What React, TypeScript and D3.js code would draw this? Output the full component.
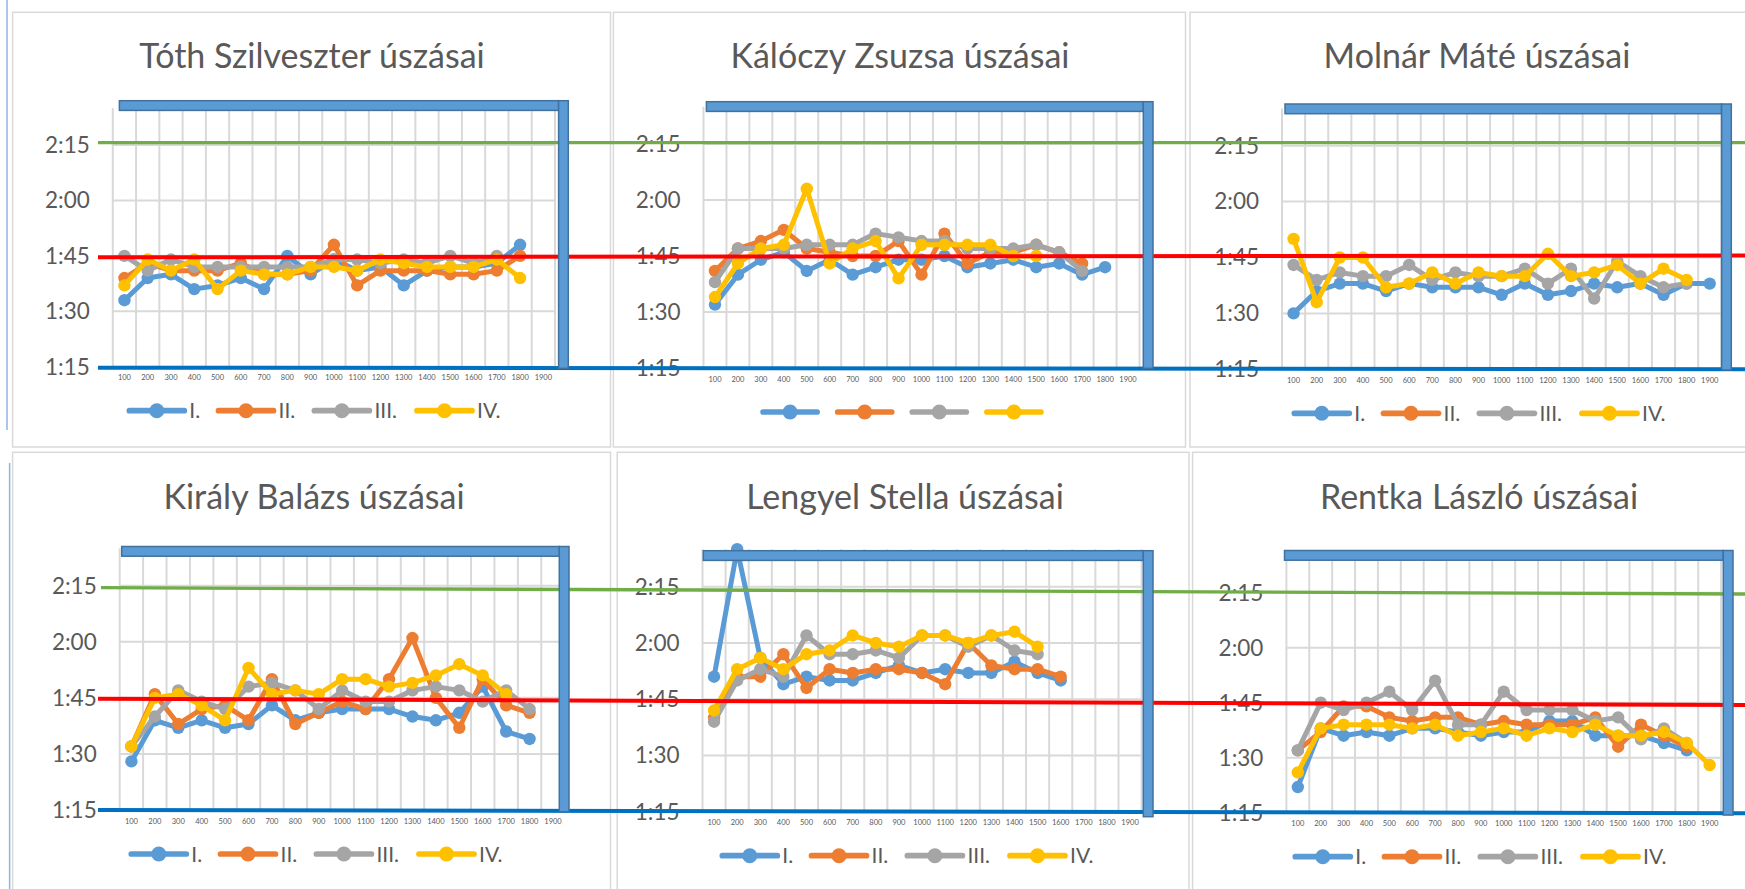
import React from 'react';
import * as d3 from 'd3';

// distances (m) on the category axis
const distances = [100, 200, 300, 400, 500, 600, 700, 800, 900, 1000, 1100, 1200, 1300, 1400, 1500, 1600, 1700, 1800, 1900];
const seriesNames = ['I.', 'II.', 'III.', 'IV.'];
const seriesColors = ['#5B9BD5', '#ED7D31', '#A5A5A5', '#FFC000'];
const timeTicks = [75, 90, 105, 120, 135]; // 1:15 .. 2:15 in seconds

// lap times in seconds, one array per swim (I.-IV.)
const tothI = [93, 99, 100, 96, 97, 99, 96, 105, 100, 104, 101, 102, 97, 101, 102, 102, 103, 108];
const tothII = [99, 103, 101, 101, 101, 103, 100, 100, 101, 108, 97, 101, 101, 101, 100, 100, 101, 105];
const tothIII = [105, 101, 104, 102, 102, 102, 102, 102, 102, 104, 104, 103, 104, 103, 105, 103, 105];
const tothIV = [97, 104, 101, 104, 96, 101, 100, 100, 102, 102, 101, 104, 103, 102, 102, 102, 104, 99];

const kaloczyI = [92, 100, 104, 106, 101, 104, 100, 102, 104, 104, 105, 102, 103, 104, 102, 103, 100, 102];
const kaloczyII = [101, 107, 109, 112, 107, 106, 105, 105, 109, 100, 111, 103, 106, 106, 108, 106, 103];
const kaloczyIII = [98, 107, 107, 107, 108, 108, 108, 111, 110, 109, 109, 107, 107, 107, 108, 106, 101];
const kaloczyIV = [94, 103, 107, 108, 123, 103, 107, 109, 99, 108, 108, 108, 108, 105, 105];

const molnarI = [90, 96, 98, 98, 96, 98, 97, 97, 97, 95, 98, 95, 96, 98, 97, 98, 95, 98, 98];
const molnarII: number[] = [];
const molnarIII = [103, 99, 101, 100, 100, 103, 99, 101, 100, 100, 102, 98, 102, 94, 104, 100, 97, 98];
const molnarIV = [110, 93, 105, 105, 97, 98, 101, 98, 101, 100, 100, 106, 100, 101, 103, 98, 102, 99];

const kiralyI = [88, 99, 97, 99, 97, 98, 103, 99, 101, 102, 102, 102, 100, 99, 101, 108, 96, 94];
const kiralyII = [92, 106, 98, 102, 103, 99, 110, 98, 101, 104, 102, 110, 121, 105, 97, 110, 103, 101];
const kiralyIII = [92, 100, 107, 104, 102, 108, 109, 107, 102, 107, 104, 104, 107, 108, 107, 104, 107, 102];
const kiralyIV = [92, 105, 106, 103, 99, 113, 106, 107, 106, 110, 110, 108, 109, 111, 114, 111, 106];

const lengyelI = [111, 145, 116, 109, 111, 110, 110, 112, 114, 112, 113, 112, 112, 115, 112, 110];
const lengyelII = [100, 111, 111, 117, 108, 113, 112, 113, 113, 112, 109, 120, 114, 113, 113, 111];
const lengyelIII = [99, 110, 113, 111, 122, 117, 117, 118, 116, 122, 122, 119, 122, 118, 117];
const lengyelIV = [102, 113, 116, 113, 117, 118, 122, 120, 119, 122, 122, 120, 122, 123, 119];

const rentkaI = [82, 98, 96, 97, 96, 98, 98, 97, 96, 97, 97, 100, 100, 96, 96, 96, 94, 92];
const rentkaII = [92, 97, 104, 104, 101, 100, 101, 101, 99, 100, 99, 99, 99, 101, 93, 99, 96, 93];
const rentkaIII = [92, 105, 103, 105, 108, 103, 111, 99, 99, 108, 103, 103, 103, 100, 101, 95, 98, 94];
const rentkaIV = [86, 98, 99, 99, 99, 98, 99, 96, 97, 98, 96, 98, 97, 99, 96, 96, 97, 94, 88];

const FONT = 'Lato, Carlito, Calibri, sans-serif';
const TEXT = '#595959';
const GRID = '#D9D9D9';

// sheet layout (plot box: left, right, y of 1:15, y of 2:15)
const panels = [
    { title: 'Tóth Szilveszter úszásai', series: [tothI, tothII, tothIII, tothIV], names: true,
      plot: [112.8, 555, 366.7, 145], cx: 312, legendCx: 315, titleY: 68, frame: [12.6, 12.3, 610.5, 447], pool: [119.4, 100.7, 568.3, 368.3] },
    { title: 'Kálóczy Zsuzsa úszásai', series: [kaloczyI, kaloczyII, kaloczyIII, kaloczyIV], names: false,
      plot: [703.5, 1139.5, 368, 144], cx: 900, legendCx: 902, titleY: 68, frame: [613.4, 12.3, 1185.5, 447], pool: [706.4, 101.7, 1153, 368.3] },
    { title: 'Molnár Máté úszásai', series: [molnarI, molnarII, molnarIII, molnarIV], names: true,
      plot: [1282, 1721.3, 369.3, 145.7], cx: 1477, legendCx: 1480, titleY: 68, frame: [1190, 12.3, 1780, 447], pool: [1285, 104, 1731.3, 370] },
    { title: 'Király Balázs úszásai', series: [kiralyI, kiralyII, kiralyIII, kiralyIV], names: true,
      plot: [119.7, 564.7, 810, 585.7], cx: 314, legendCx: 317, titleY: 509, frame: [12.6, 452.3, 610.5, 900], pool: [121.7, 546.5, 569, 811.7] },
    { title: 'Lengyel Stella úszásai', series: [lengyelI, lengyelII, lengyelIII, lengyelIV], names: true,
      plot: [702.5, 1141.6, 811.7, 586.7], cx: 905, legendCx: 908, titleY: 509, frame: [617.2, 452.3, 1189, 900], pool: [703.3, 550.7, 1153, 816.7] },
    { title: 'Rentka László úszásai', series: [rentkaI, rentkaII, rentkaIII, rentkaIV], names: true,
      plot: [1286.4, 1721.1, 812.7, 592.7], cx: 1479, legendCx: 1481, titleY: 509, frame: [1192.6, 452.3, 1780, 900], pool: [1284.5, 550.5, 1733, 815] },
];

// hand drawn guide lines laid over the sheet
const guideLines = [
    { color: '#70AD47', w: 3.3, x1: 98, y1: 142.7, x2: 1745, y2: 142.7 },
    { color: '#FF0000', w: 4, x1: 98, y1: 257.3, x2: 1745, y2: 255.5 },
    { color: '#0070C0', w: 4, x1: 98, y1: 367.7, x2: 1745, y2: 369.3 },
    { color: '#70AD47', w: 3.3, x1: 101, y1: 587.7, x2: 1745, y2: 594 },
    { color: '#FF0000', w: 4, x1: 98, y1: 698.7, x2: 1745, y2: 705 },
    { color: '#0070C0', w: 4, x1: 98, y1: 810, x2: 1745, y2: 813.3 },
];

const fmtTime = (s: number) => `${Math.floor(s / 60)}:${String(s % 60).padStart(2, '0')}`;

// rough advance widths of the legend glyphs at 21px
const glyphW: Record<string, number> = { I: 6.7, V: 13, '.': 4 };
const labelWidth = (t: string) => d3.sum(t.split(''), c => glyphW[c] ?? 10);

function Legend({ cx, y, names }: { cx: number, y: number, names: boolean }) {
    const lineLen = names ? 55 : 54;
    const gapText = 5;
    const gapItem = names ? 18.5 : 20.6;
    const widths = seriesNames.map(n => lineLen + (names ? gapText + labelWidth(n) : 0));
    const total = d3.sum(widths) + gapItem * (widths.length - 1);
    let x = cx - total / 2;
    return (
        <g>
            {seriesNames.map((n, i) => {
                const x0 = x;
                x += widths[i] + gapItem;
                return (
                    <g key={n}>
                        <line x1={x0} x2={x0 + lineLen} y1={y} y2={y} stroke={seriesColors[i]} strokeWidth={5.7} strokeLinecap="round" />
                        <circle cx={x0 + lineLen / 2} cy={y} r={7.5} fill={seriesColors[i]} />
                        {names && (
                            <text x={x0 + lineLen + gapText} y={y} dy="0.36em" fontSize={21} fill={TEXT} fontFamily={FONT}>{n}</text>
                        )}
                    </g>
                );
            })}
        </g>
    );
}

function Panel({ p }: { p: typeof panels[number] }) {
    const [left, right, yLow, yHigh] = p.plot;
    const x = d3.scaleBand<number>().domain(distances).range([left, right]);
    const y = d3.scaleLinear().domain([75, 135]).range([yLow, yHigh]);
    const top = y(145);
    const cxOf = (i: number) => x(distances[i])! + x.bandwidth() / 2;
    const line = d3.line<number>()
        .x((_, i) => cxOf(i))
        .y(d => y(d));
    const [fx0, fy0, fx1, fy1] = p.frame;
    return (
        <g>
            <rect x={fx0} y={fy0} width={fx1 - fx0} height={fy1 - fy0} fill="#fff" stroke={GRID} strokeWidth={1.5} />
            <text x={p.cx} y={p.titleY} textAnchor="middle" fontSize={34} fill={TEXT} fontFamily={FONT}>{p.title}</text>
            {/* gridlines */}
            {timeTicks.map(t => (
                <line key={t} x1={left} x2={right} y1={y(t)} y2={y(t)} stroke={GRID} strokeWidth={2} />
            ))}
            {distances.concat([0]).map((d, i) => {
                const gx = left + i * x.step();
                return <line key={'v' + i} x1={gx} x2={gx} y1={top} y2={yLow} stroke={GRID} strokeWidth={2} />;
            })}
            {timeTicks.map(t => (
                <text key={'t' + t} x={left - 23} y={y(t)} dy="0.35em" textAnchor="end" fontSize={22.5} fill={TEXT} fontFamily={FONT}>{fmtTime(t)}</text>
            ))}
            {distances.map((d, i) => (
                <text key={'d' + d} x={cxOf(i)} y={yLow + 11} dy="0.35em" textAnchor="middle" fontSize={7.5} fill={TEXT} fontFamily={FONT}>{d}</text>
            ))}
            {p.series.map((s, si) => (
                <g key={si}>
                    <path d={line(s) || ''} fill="none" stroke={seriesColors[si]} strokeWidth={5} strokeLinejoin="round" strokeLinecap="round" />
                    {s.map((v, i) => (
                        <circle key={i} cx={cxOf(i)} cy={y(v)} r={6.2} fill={seriesColors[si]} />
                    ))}
                </g>
            ))}
            <Legend cx={p.legendCx} y={yLow + 44} names={p.names} />
        </g>
    );
}

function Pool({ box }: { box: number[] }) {
    const [l, t, r, b] = box;
    const th = 9.7;
    return (
        <g fill="#5B9BD5" stroke="#41719C" strokeWidth={1.5}>
            <rect x={l} y={t} width={r - th - l} height={th} />
            <rect x={r - th} y={t} width={th} height={b - t} />
        </g>
    );
}

export default function App() {
    return (
        <div style={{ position: 'fixed', left: 0, top: 0, width: 1745, height: 889, background: '#fff', overflow: 'hidden' }}>
            <svg width={1745} height={889} style={{ display: 'block' }}>
                <rect width={1745} height={889} fill="#fff" />
                {panels.map(p => <Panel key={p.title} p={p} />)}
                <line x1={7} x2={7} y1={0} y2={430} stroke="#8EB4E3" strokeWidth={1.5} />
                <line x1={9.6} x2={9.6} y1={463} y2={889} stroke="#8EB4E3" strokeWidth={1.5} />
                {guideLines.map((g, i) => (
                    <line key={i} x1={g.x1} y1={g.y1} x2={g.x2} y2={g.y2} stroke={g.color} strokeWidth={g.w} />
                ))}
                {panels.map(p => <Pool key={'pool' + p.title} box={p.pool} />)}
            </svg>
        </div>
    );
}
